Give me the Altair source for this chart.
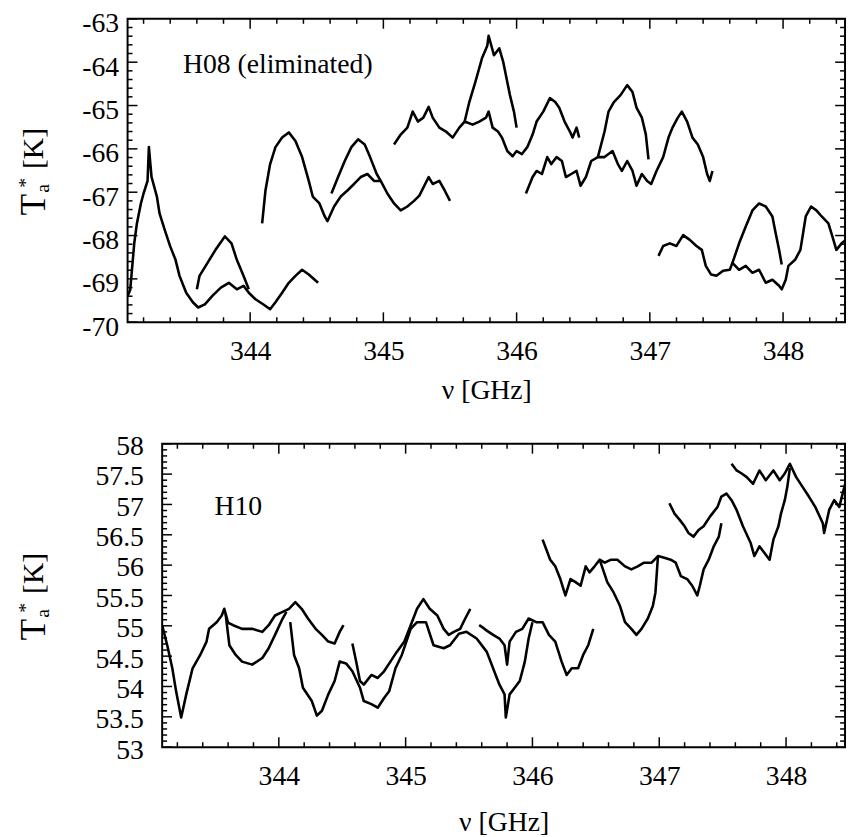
import altair as alt
import pandas as pd

FONT = "Liberation Serif"
XDOM = [343.08, 348.465]

# ---------------- tick / label values ----------------
x_major = [344, 345, 346, 347, 348]
x_minor = [343.2, 343.4, 343.6, 343.8, 344.2, 344.4, 344.6, 344.8, 345.2, 345.4,
           345.6, 345.8, 346.2, 346.4, 346.6, 346.8, 347.2, 347.4, 347.6, 347.8,
           348.2, 348.4]
h08_y_major = [-70, -69, -68, -67, -66, -65, -64, -63]
h08_y_minor = [-69.8, -69.6, -69.4, -69.2, -68.8, -68.6, -68.4, -68.2, -67.8, -67.6,
               -67.4, -67.2, -66.8, -66.6, -66.4, -66.2, -65.8, -65.6, -65.4, -65.2,
               -64.8, -64.6, -64.4, -64.2, -63.8, -63.6, -63.4, -63.2]
h10_y_major = [53, 53.5, 54, 54.5, 55, 55.5, 56, 56.5, 57, 57.5, 58]
h10_y_minor = [53.1, 53.2, 53.3, 53.4, 53.6, 53.7, 53.8, 53.9,
               54.1, 54.2, 54.3, 54.4, 54.6, 54.7, 54.8, 54.9,
               55.1, 55.2, 55.3, 55.4, 55.6, 55.7, 55.8, 55.9,
               56.1, 56.2, 56.3, 56.4, 56.6, 56.7, 56.8, 56.9,
               57.1, 57.2, 57.3, 57.4, 57.6, 57.7, 57.8, 57.9]

# ---------------- H08 spectra segments ----------------
h08_A_f = [343.08, 343.10, 343.13, 343.15, 343.18, 343.20, 343.23, 343.24, 343.26, 343.30,
           343.32, 343.36, 343.40, 343.44, 343.47, 343.52, 343.57, 343.61, 343.66, 343.72,
           343.78, 343.84, 343.90, 343.95, 343.99, 344.04, 344.10, 344.15, 344.19, 344.24,
           344.29, 344.34, 344.39, 344.44, 344.51]
h08_A_t = [-69.4, -69.25, -68.18, -67.72, -67.26, -67.03, -66.74, -65.96, -66.65, -67.1,
           -67.49, -67.88, -68.25, -68.56, -68.93, -69.32, -69.54, -69.66, -69.59, -69.38,
           -69.2, -69.09, -69.24, -69.16, -69.32, -69.47, -69.59, -69.7, -69.54, -69.32,
           -69.09, -68.93, -68.79, -68.9, -69.09]
h08_B_f = [343.60, 343.62, 343.68, 343.74, 343.81, 343.86, 343.90, 343.95, 343.99]
h08_B_t = [-69.24, -68.93, -68.63, -68.33, -68.02, -68.18, -68.56, -68.93, -69.24]
h08_C_f = [344.09, 344.115, 344.15, 344.19, 344.24, 344.29, 344.34, 344.39, 344.44, 344.47,
           344.52, 344.56, 344.58, 344.63, 344.68, 344.73, 344.78, 344.83, 344.88, 344.93,
           344.98, 345.03, 345.08, 345.13, 345.18, 345.23, 345.27, 345.34, 345.37, 345.42,
           345.46, 345.50]
h08_C_t = [-67.72, -66.96, -66.35, -65.96, -65.74, -65.62, -65.82, -66.19, -66.74, -67.1,
           -67.26, -67.56, -67.67, -67.33, -67.1, -66.96, -66.81, -66.65, -66.58, -66.74,
           -66.74, -67.03, -67.26, -67.42, -67.33, -67.2, -67.08, -66.65, -66.81, -66.74,
           -66.96, -67.2]
h08_D_f = [344.61, 344.66, 344.71, 344.76, 344.81, 344.86, 344.90, 344.95, 344.98]
h08_D_t = [-67.03, -66.65, -66.28, -65.96, -65.78, -65.9, -66.19, -66.58, -66.74]
h08_E_f = [345.08, 345.13, 345.18, 345.22, 345.26, 345.30, 345.34, 345.37, 345.42, 345.47,
           345.52, 345.57, 345.61, 345.67, 345.72, 345.77, 345.79, 345.82, 345.86, 345.89,
           345.93, 345.97, 346.00, 346.04, 346.08, 346.12, 346.15, 346.20, 346.25, 346.29,
           346.32, 346.36, 346.40, 346.42, 346.45, 346.47]
h08_E_t = [-65.9, -65.67, -65.51, -65.14, -65.37, -65.28, -65.03, -65.28, -65.51, -65.6,
           -65.74, -65.51, -65.37, -65.44, -65.37, -65.28, -65.14, -65.51, -65.6, -65.74,
           -66.05, -66.17, -66.05, -66.12, -65.96, -65.67, -65.37, -65.14, -64.83, -64.92,
           -65.05, -65.37, -65.6, -65.74, -65.51, -65.74]
h08_E1_f = [345.61, 345.645, 345.69, 345.74, 345.78, 345.79, 345.83, 345.87, 345.90, 345.93,
            345.95, 345.98, 346.00]
h08_E1_t = [-65.37, -64.92, -64.46, -63.91, -63.62, -63.39, -63.84, -63.68, -64.0, -64.46,
            -64.76, -65.14, -65.51]
h08_F_f = [346.07, 346.12, 346.15, 346.19, 346.23, 346.26, 346.30, 346.34, 346.37, 346.41,
           346.45, 346.48, 346.52, 346.56, 346.61, 346.66, 346.72, 346.76, 346.79, 346.83,
           346.87, 346.90, 346.94, 346.98, 347.01, 347.05, 347.10, 347.14, 347.17, 347.21,
           347.24, 347.28, 347.32, 347.36, 347.40, 347.43, 347.45, 347.47]
h08_F_t = [-67.03, -66.65, -66.51, -66.58, -66.19, -66.35, -66.19, -66.28, -66.65, -66.58,
           -66.51, -66.85, -66.65, -66.28, -66.19, -66.19, -66.05, -66.35, -66.51, -66.28,
           -66.51, -66.85, -66.58, -66.74, -66.81, -66.51, -66.19, -65.74, -65.51, -65.28,
           -65.14, -65.37, -65.74, -65.9, -66.19, -66.58, -66.74, -66.51]
h08_G_f = [346.61, 346.66, 346.69, 346.73, 346.78, 346.83, 346.87, 346.90, 346.94, 346.97, 346.99]
h08_G_t = [-66.19, -65.6, -65.14, -64.92, -64.76, -64.53, -64.69, -65.05, -65.28, -65.67, -66.24]
h08_H_f = [347.065, 347.10, 347.15, 347.20, 347.25, 347.30, 347.35, 347.39, 347.42, 347.46,
           347.50, 347.55, 347.60, 347.62, 347.67, 347.72, 347.77, 347.82, 347.87, 347.92,
           347.97, 347.99, 348.02, 348.04, 348.09, 348.13, 348.15, 348.17, 348.21, 348.25,
           348.29, 348.34, 348.37, 348.40, 348.44, 348.47]
h08_H_t = [-68.47, -68.24, -68.18, -68.24, -67.99, -68.1, -68.24, -68.33, -68.7, -68.9,
           -68.93, -68.81, -68.79, -68.63, -68.79, -68.7, -68.86, -68.79, -69.09, -69.02,
           -69.16, -69.24, -69.02, -68.7, -68.56, -68.33, -67.95, -67.56, -67.33, -67.42,
           -67.56, -67.72, -68.02, -68.33, -68.18, -68.1]
h08_I_f = [347.62, 347.67, 347.72, 347.77, 347.82, 347.87, 347.92, 347.94, 347.97, 347.99]
h08_I_t = [-68.63, -68.18, -67.79, -67.42, -67.26, -67.33, -67.56, -67.88, -68.33, -68.67]

# ---------------- H10 spectra segments ----------------
h10_a_f = [343.08, 343.12, 343.16, 343.19, 343.23, 343.27, 343.32, 343.38, 343.43, 343.45,
           343.51, 343.55, 343.57, 343.60, 343.64, 343.71, 343.79, 343.87, 343.92, 343.97,
           344.03, 344.08, 344.13, 344.18, 344.23, 344.29, 344.34, 344.39, 344.44, 344.48,
           344.51]
h10_a_t = [55.01, 54.68, 54.30, 53.92, 53.49, 53.87, 54.30, 54.52, 54.74, 54.95,
           55.06, 55.17, 55.28, 55.05, 55.01, 54.95, 54.95, 54.90, 55.01, 55.17,
           55.23, 55.28, 55.39, 55.28, 55.12, 54.95, 54.85, 54.74, 54.71, 54.90,
           55.01]
h10_a2_f = [343.58, 343.61, 343.66, 343.71, 343.79, 343.87, 343.92, 343.97, 344.03, 344.06]
h10_a2_t = [55.2, 54.68, 54.52, 54.41, 54.36, 54.47, 54.63, 54.85, 55.12, 55.23]
h10_b_f = [344.09, 344.12, 344.16, 344.19, 344.26, 344.30, 344.34, 344.39, 344.44, 344.48,
           344.53, 344.58, 344.64, 344.67, 344.73, 344.78, 344.83, 344.87, 344.92, 344.97,
           345.04, 345.09, 345.16, 345.22, 345.30, 345.35, 345.42, 345.48, 345.56, 345.64,
           345.71, 345.74, 345.78, 345.79, 345.82, 345.86, 345.90, 345.94, 345.97, 346.00]
h10_b_t = [55.06, 54.52, 54.30, 53.98, 53.76, 53.52, 53.60, 53.87, 54.09, 54.41,
           54.38, 54.25, 53.98, 53.76, 53.71, 53.65, 53.81, 53.92, 54.30, 54.52,
           54.95, 55.06, 55.06, 54.68, 54.63, 54.68, 54.87, 54.90, 54.79, 54.57,
           54.19, 54.03, 53.87, 53.49, 53.87, 53.98, 54.09, 54.41, 54.79, 55.06]
h10_c_f = [344.58, 344.61, 344.64, 344.67, 344.73, 344.78, 344.83, 344.88, 344.93, 344.99,
           345.04, 345.09, 345.14, 345.19, 345.25, 345.30, 345.34, 345.38, 345.43, 345.47,
           345.51]
h10_c_t = [54.71, 54.41, 54.09, 54.03, 54.19, 54.14, 54.25, 54.41, 54.57, 54.74,
           55.01, 55.28, 55.44, 55.28, 55.17, 54.95, 54.85, 54.90, 54.95, 55.12,
           55.28]
h10_d_f = [345.58, 345.61, 345.64, 345.69, 345.74, 345.78, 345.80, 345.82, 345.87, 345.92,
           345.97, 346.03, 346.08, 346.13, 346.18, 346.23, 346.27, 346.31, 346.36, 346.40,
           346.44, 346.48]
h10_d_t = [55.01, 54.97, 54.92, 54.85, 54.79, 54.68, 54.36, 54.74, 54.90, 54.95,
           55.12, 55.06, 55.06, 54.85, 54.74, 54.41, 54.19, 54.30, 54.30, 54.52,
           54.68, 54.95]
h10_e_f = [346.08, 346.10, 346.14, 346.18, 346.22, 346.26, 346.30, 346.34, 346.38, 346.42,
           346.45, 346.49, 346.53, 346.57, 346.62, 346.67, 346.73, 346.78, 346.83, 346.88,
           346.94, 346.99, 347.04, 347.09, 347.13, 347.17, 347.22, 347.26, 347.30, 347.32,
           347.35, 347.39, 347.43, 347.47, 347.49]
h10_e_t = [56.42, 56.31, 56.09, 55.98, 55.77, 55.50, 55.77, 55.72, 55.66, 55.98,
           55.88, 55.98, 56.09, 56.04, 56.09, 56.09, 55.98, 55.93, 55.98, 56.04,
           56.04, 56.15, 56.12, 56.09, 56.04, 55.82, 55.77, 55.66, 55.50, 55.66,
           55.93, 56.09, 56.31, 56.47, 56.69]
h10_e2_f = [346.53, 346.59, 346.64, 346.69, 346.73, 346.78, 346.82, 346.86, 346.91, 346.95,
            346.97, 346.99]
h10_e2_t = [56.09, 55.72, 55.55, 55.33, 55.06, 54.95, 54.85, 54.95, 55.12, 55.33,
            55.55, 56.15]
h10_f_f = [347.08, 347.12, 347.16, 347.20, 347.23, 347.27, 347.31, 347.35, 347.40, 347.46,
           347.49, 347.53, 347.57, 347.61, 347.66, 347.72, 347.75, 347.79, 347.83, 347.87,
           347.90, 347.94, 347.96, 347.99, 348.01, 348.03]
h10_f_t = [57.02, 56.85, 56.75, 56.64, 56.53, 56.47, 56.58, 56.64, 56.80, 56.96,
           57.13, 57.18, 57.07, 56.91, 56.64, 56.37, 56.15, 56.31, 56.20, 56.09,
           56.42, 56.64, 56.85, 57.07, 57.29, 57.6]
h10_g_f = [347.57, 347.61, 347.65, 347.69, 347.74, 347.79, 347.84, 347.90, 347.95, 347.99,
           348.03, 348.08, 348.13, 348.18, 348.23, 348.29, 348.30, 348.34, 348.38, 348.42,
           348.46, 348.48]
h10_g_t = [57.67, 57.56, 57.51, 57.45, 57.34, 57.56, 57.40, 57.56, 57.40, 57.51,
           57.67, 57.45, 57.29, 57.13, 56.96, 56.69, 56.53, 56.91, 57.07, 56.96,
           57.29, 57.45]

h08_segments = {"A": (h08_A_f, h08_A_t), "B": (h08_B_f, h08_B_t), "C": (h08_C_f, h08_C_t),
                "D": (h08_D_f, h08_D_t), "E": (h08_E_f, h08_E_t), "E1": (h08_E1_f, h08_E1_t),
                "F": (h08_F_f, h08_F_t), "G": (h08_G_f, h08_G_t), "H": (h08_H_f, h08_H_t),
                "I": (h08_I_f, h08_I_t)}
h10_segments = {"a": (h10_a_f, h10_a_t), "a2": (h10_a2_f, h10_a2_t), "b": (h10_b_f, h10_b_t),
                "c": (h10_c_f, h10_c_t), "d": (h10_d_f, h10_d_t), "e": (h10_e_f, h10_e_t),
                "e2": (h10_e2_f, h10_e2_t), "f": (h10_f_f, h10_f_t), "g": (h10_g_f, h10_g_t)}


def to_df(segs):
    rows = []
    for name, (fs, ts) in segs.items():
        for f, t in zip(fs, ts):
            rows.append({"seg": name, "freq": f, "temp": t})
    return pd.DataFrame(rows)


ONE = pd.DataFrame({"k": [0]})


def txt(s, x, y, size, angle=0):
    props = dict(text=s, font=FONT, fontSize=size, color="black", align="left",
                 baseline="alphabetic")
    if angle:
        props["angle"] = angle
    return alt.Chart(ONE).mark_text(**props).encode(x=alt.value(x), y=alt.value(y))


def panel(df, ydom, ymaj, ymin, W, H, label, lx, ly, ylab_pad, ylab_off, xlab_pad,
          xtitle_pad, tx):
    xs = alt.Scale(domain=XDOM, nice=False, zero=False)
    ys = alt.Scale(domain=ydom, nice=False, zero=False)
    x_enc = alt.X("freq:Q", scale=xs,
                  axis=alt.Axis(values=x_major, ticks=False, domain=False, grid=False,
                                labelFont=FONT, labelFontSize=28, labelColor="black",
                                labelPadding=xlab_pad, labelFlush=False, labelOverlap=False,
                                title="ν [GHz]", titleFont=FONT, titleFontSize=28,
                                titleFontWeight="normal", titleColor="black",
                                titlePadding=xtitle_pad))
    y_enc = alt.Y("temp:Q", scale=ys,
                  axis=alt.Axis(values=ymaj, ticks=False, domain=False, grid=False,
                                labelFont=FONT, labelFontSize=28, labelColor="black",
                                labelPadding=ylab_pad, labelOffset=ylab_off, labelFlush=False,
                                labelOverlap=False, labelExpr="'' + datum.value",
                                title=None))
    layers = [alt.Chart(df).mark_line(color="black", strokeWidth=2.6, strokeJoin="round",
                                      clip=True)
              .encode(x=x_enc, y=y_enc, detail="seg:N")]
    tk = dict(color="black", strokeWidth=1.5)
    for vals, L in [(x_major, 10), (x_minor, 5)]:
        d = pd.DataFrame({"freq": vals})
        layers.append(alt.Chart(d).mark_rule(**tk).encode(x=x_enc, y=alt.value(H), y2=alt.value(H - L)))
        layers.append(alt.Chart(d).mark_rule(**tk).encode(x=x_enc, y=alt.value(0), y2=alt.value(L)))
    for vals, L in [(ymaj, 10), (ymin, 5)]:
        d = pd.DataFrame({"temp": vals})
        layers.append(alt.Chart(d).mark_rule(**tk).encode(y=y_enc, x=alt.value(0), x2=alt.value(L)))
        layers.append(alt.Chart(d).mark_rule(**tk).encode(y=y_enc, x=alt.value(W), x2=alt.value(W - L)))
    layers.append(txt(label, lx, ly, 28))
    # rotated y-axis title  T_a^* [K]
    layers.append(txt("T", tx, 199, 36, 270))
    layers.append(txt("a", tx + 4, 176, 20, 270))
    layers.append(txt("*", tx - 13, 171, 20, 270))
    layers.append(txt("[K]", tx - 2, 152, 30, 270))
    return alt.layer(*layers).properties(width=W, height=H)


top = panel(to_df(h08_segments), [-70, -63], h08_y_major, h08_y_minor, 726, 307,
            "H08 (eliminated)", 56, 55, 9, 5, 16, 11, -84)
bottom = panel(to_df(h10_segments), [53, 58], h10_y_major, h10_y_minor, 691, 307,
               "H10", 53, 72, 19, 3, 16, 18, -119)

spacer = (alt.Chart(ONE).mark_point(opacity=0)
          .encode(x=alt.value(0), y=alt.value(0))
          .properties(width=35, height=307, view=alt.ViewBackground(stroke="transparent")))

chart = (alt.vconcat(top, alt.hconcat(spacer, bottom, spacing=0, bounds="flush"),
                     spacing=123, bounds="flush")
         .properties(padding={"left": 7, "top": -4, "right": 0, "bottom": 0})
         .configure_view(stroke="black", strokeWidth=2)
         .configure_axis(labelFont=FONT, titleFont=FONT)
         .configure_text(font=FONT))

chart.save("out.html", embed_options={"renderer": "svg", "actions": False})
